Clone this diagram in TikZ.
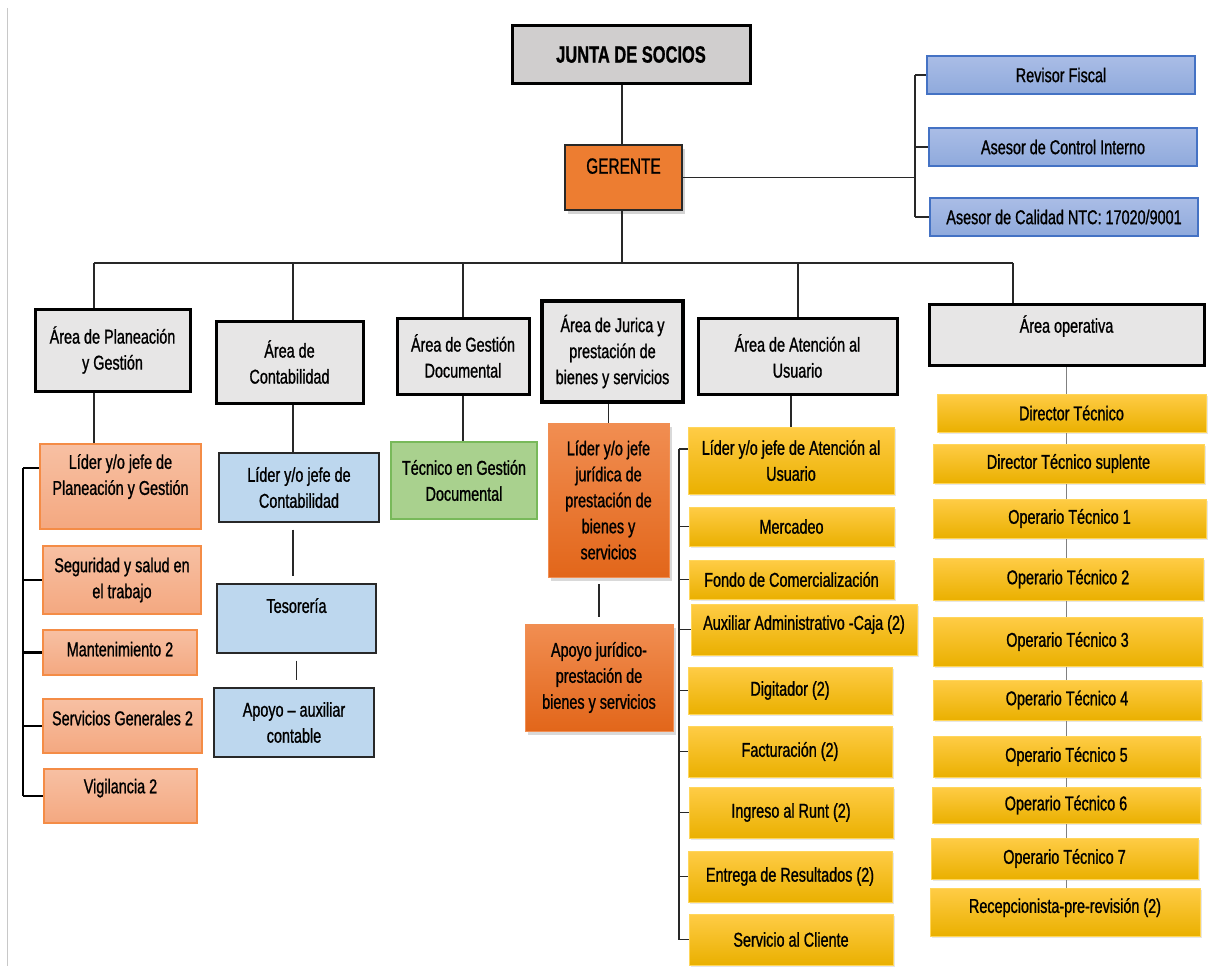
\documentclass[tikz,border=0pt]{standalone}
\usepackage{fontspec}
\setmainfont{Liberation Sans}[FakeStretch=0.72, FakeBold=1]
\newfontfamily\tallfont{Liberation Sans}[FakeStretch=0.7, FakeBold=1]
\usetikzlibrary{shadows,backgrounds}

\definecolor{rulegray}{RGB}{200,200,200}
\definecolor{linegray}{RGB}{40,40,40}
\definecolor{juntagray}{RGB}{208,206,206}
\definecolor{areagray}{RGB}{231,230,230}
\definecolor{gerorange}{RGB}{237,125,49}
\definecolor{advtop}{RGB}{170,189,230}
\definecolor{advbot}{RGB}{143,170,220}
\definecolor{advline}{RGB}{68,114,196}
\definecolor{salmontop}{RGB}{247,192,163}
\definecolor{salmonbot}{RGB}{244,168,128}
\definecolor{salmonline}{RGB}{244,140,70}
\definecolor{paleblue}{RGB}{189,215,238}
\definecolor{docgreen}{RGB}{169,209,142}
\definecolor{docline}{RGB}{120,185,90}
\definecolor{jurtop}{RGB}{241,142,82}
\definecolor{jurbot}{RGB}{226,102,26}
\definecolor{yeltop}{RGB}{255,204,70}
\definecolor{yelbot}{RGB}{234,176,0}
\definecolor{yelline}{RGB}{255,214,90}

\tikzset{
  box/.style={rectangle, align=center, inner sep=2pt, text=black,
    font=\fontsize{20}{26}\selectfont},
  juntabox/.style={box, draw=black, fill=juntagray, line width=3pt,
    font=\tallfont\bfseries\fontsize{23.5}{26}\selectfont},
  gerbox/.style={box, draw=linegray, fill=gerorange, line width=1.2pt,
    font=\tallfont\fontsize{22}{26}\selectfont,
    drop shadow={shadow xshift=3pt, shadow yshift=-4pt, opacity=0.35}},
  advbox/.style={box, draw=advline, top color=advtop, bottom color=advbot, line width=1.4pt},
  area/.style={box, draw=black, fill=areagray, line width=3pt},
  salmon/.style={box, draw=salmonline, top color=salmontop, bottom color=salmonbot, line width=1.2pt},
  contbox/.style={box, draw=linegray, fill=paleblue, line width=1.2pt},
  docbox/.style={box, draw=docline, fill=docgreen, line width=1.2pt},
  jurbox/.style={box, draw=jurtop, top color=jurtop, bottom color=jurbot, line width=0.8pt,
    drop shadow={shadow xshift=3pt, shadow yshift=-4pt, opacity=0.3}},
  yel/.style={box, draw=yelline, top color=yeltop, bottom color=yelbot, line width=0.8pt,
    drop shadow={shadow xshift=1.5pt, shadow yshift=-2pt, opacity=0.2}},
  link/.style={draw=linegray, line width=1.2pt},
  gap/.style={link, shorten <=7pt, shorten >=7pt},
  bracket/.style={draw=black, line width=2.5pt},
}

\begin{document}
\begin{tikzpicture}[x=1pt,y=1pt,yscale=-1]
\useasboundingbox (0,0) rectangle (1225,966);
%Straight Lines: page rule
\draw[rulegray, line width=1pt] (7,8) -- (7,966);

%Shape: top of the chart
\node[juntabox, minimum width=238, minimum height=57] (junta) at (631,54.5) {JUNTA DE SOCIOS};
\node[gerbox, minimum width=117, minimum height=65, text depth=23pt] (ger) at (623.5,177.5) {GERENTE};

%Shape: advisors
\node[advbox, minimum width=268, minimum height=38] (rev) at (1061,75) {Revisor Fiscal};
\node[advbox, minimum width=268, minimum height=38] (aci) at (1063,147) {Asesor de Control Interno};
\node[advbox, minimum width=268, minimum height=38] (acal) at (1064,217) {Asesor de Calidad NTC: 17020/9001};

%Shape: areas
\node[area, minimum width=155, minimum height=82] (aplan) at (112.5,350) {Área de Planeación\\y Gestión};
\node[area, minimum width=147, minimum height=82] (acont) at (289.5,362) {Área de\\Contabilidad};
\node[area, minimum width=132, minimum height=76] (agd) at (463,356) {Área de Gestión\\Documental};
\node[area, line width=4.5pt, minimum width=141, minimum height=101] (ajur) at (612.5,351.5) {Área de Jurica y\\prestación de\\bienes y servicios};
\node[area, minimum width=199, minimum height=76] (aate) at (797.5,356) {Área de Atención al\\Usuario};
\node[area, minimum width=275, minimum height=61, text depth=21pt] (aop) at (1066.5,334.5) {Área operativa};

%Shape: planeacion
\node[salmon, minimum width=161, minimum height=85, text depth=24pt] (lplan) at (120.5,486.5) {Líder y/o jefe de\\Planeación y Gestión};
\node[salmon, minimum width=158, minimum height=68] (seg) at (122,580) {Seguridad y salud en\\el trabajo};
\node[salmon, minimum width=154, minimum height=45, text depth=7pt] (mant) at (120,652.5) {Mantenimiento 2};
\node[salmon, minimum width=159, minimum height=54, text depth=16pt] (servg) at (122.5,726) {Servicios Generales 2};
\node[salmon, minimum width=153, minimum height=54, text depth=20pt] (vig) at (120.5,796) {Vigilancia 2};

%Shape: contabilidad
\node[contbox, minimum width=160, minimum height=69] (lcont) at (299,487.5) {Líder y/o jefe de\\Contabilidad};
\node[contbox, minimum width=159, minimum height=69, text depth=26pt] (teso) at (296.5,618.5) {Tesorería};
\node[contbox, minimum width=160, minimum height=69] (apaux) at (294,722.5) {Apoyo -- auxiliar\\contable};

%Shape: gestion documental
\node[docbox, minimum width=146, minimum height=77] (tgd) at (464,480.5) {Técnico en Gestión\\Documental};

%Shape: juridica
\node[jurbox, minimum width=121, minimum height=154] (ljur) at (608.5,500) {Líder y/o jefe\\jurídica de\\prestación de\\bienes y\\servicios};
\node[jurbox, minimum width=148, minimum height=107] (apjur) at (599,677.5) {Apoyo jurídico-\\prestación de\\bienes y servicios};

%Shape: atencion al usuario
\node[yel, minimum width=206, minimum height=67] (latu) at (791,460.5) {Líder y/o jefe de Atención al\\Usuario};
\node[yel, minimum width=205, minimum height=39] (merc) at (791.5,526.5) {Mercadeo};
\node[yel, minimum width=205, minimum height=39] (fondo) at (791.5,579.5) {Fondo de Comercialización};
\node[yel, minimum width=226, minimum height=51, text depth=14pt] (aux) at (804,629.5) {Auxiliar Administrativo -Caja (2)};
\node[yel, minimum width=204, minimum height=47] (dig) at (790,690.5) {Digitador (2)};
\node[yel, minimum width=204, minimum height=51] (fact) at (790,751.5) {Facturación (2)};
\node[yel, minimum width=204, minimum height=51] (runt) at (791,812.5) {Ingreso al Runt (2)};
\node[yel, minimum width=204, minimum height=51] (entr) at (790,876.5) {Entrega de Resultados (2)};
\node[yel, minimum width=204, minimum height=51] (scli) at (791,939.5) {Servicio al Cliente};

%Shape: operativa
\node[yel, minimum width=269, minimum height=38] (dt) at (1071.5,413) {Director Técnico};
\node[yel, minimum width=271, minimum height=39] (dts) at (1068.5,463.5) {Director Técnico suplente};
\node[yel, minimum width=273, minimum height=39] (op1) at (1069.5,518.5) {Operario Técnico 1};
\node[yel, minimum width=270, minimum height=42] (op2) at (1068,579) {Operario Técnico 2};
\node[yel, minimum width=269, minimum height=49] (op3) at (1067.5,641.5) {Operario Técnico 3};
\node[yel, minimum width=268, minimum height=40] (op4) at (1067,700) {Operario Técnico 4};
\node[yel, minimum width=267, minimum height=41] (op5) at (1066.5,756.5) {Operario Técnico 5};
\node[yel, minimum width=268, minimum height=36] (op6) at (1066,805) {Operario Técnico 6};
\node[yel, minimum width=267, minimum height=41] (op7) at (1064.5,858.5) {Operario Técnico 7};
\node[yel, minimum width=270, minimum height=48, text depth=13pt] (recep) at (1065,912) {Recepcionista-pre-revisión (2)};

%Straight Lines: junta - gerente
\coordinate (g) at (622,263);
\draw[link] (junta.south -| g) -- (ger.north -| g);
\draw[link] (ger.south -| g) -- (g);

%Straight Lines: advisors
\coordinate (rk) at (915,177.5);
\draw[link] (ger.east) -- (rk);
\draw[link, line width=1.5pt] (rk |- rev.west) -- (rk |- acal.west);
\draw[link, line width=1.5pt] (rk |- rev.west) -- (rev.west);
\draw[link, line width=1.5pt] (rk |- aci.west) -- (aci.west);
\draw[link, line width=1.5pt] (rk |- acal.west) -- (acal.west);

%Straight Lines: bus to the areas
\coordinate (b1) at (94,263);
\coordinate (b2) at (293,263);
\coordinate (b3) at (463,263);
\coordinate (b4) at (798,263);
\coordinate (b5) at (1013,263);
\draw[link] (b1) -- (b5);
\draw[link] (b1) -- (b1 |- aplan.north);
\draw[link] (b2) -- (b2 |- acont.north);
\draw[link] (b3) -- (b3 |- agd.north);
\draw[link] (b4) -- (b4 |- aate.north);
\draw[link] (b5) -- (b5 |- aop.north);

%Straight Lines: inside the areas
\draw[link] (b1 |- aplan.south) -- (b1 |- lplan.north);
\draw[link] (b2 |- acont.south) -- (b2 |- lcont.north);
\draw[gap] (b2 |- lcont.south) -- (b2 |- teso.north);
\draw[gap] (teso.south) -- (teso.south |- apaux.north);
\draw[link] (agd.south) -- (agd.south |- tgd.north);
\draw[link] (ljur.north |- ajur.south) -- (ljur.north);
\draw[gap] (apjur.north |- ljur.south) -- (apjur.north);
\draw[link] (latu.north |- aate.south) -- (latu.north);

%Straight Lines: planeacion bracket
\coordinate (pk) at (23,468);
\draw[bracket] (pk) -- (pk |- vig.west);
\draw[bracket] (pk) -- (pk -| lplan.west);
\draw[bracket] (pk |- seg.west) -- (seg.west);
\draw[bracket] (pk |- mant.west) -- (mant.west);
\draw[bracket] (pk |- servg.west) -- (servg.west);
\draw[bracket] (pk |- vig.west) -- (vig.west);

%Straight Lines: atencion bracket
\coordinate (ak) at (679,449);
\draw[link] (ak) -- (ak |- scli.west);
\draw[link] (ak) -- (ak -| latu.west);
\draw[link] (ak |- merc.west) -- (merc.west);
\draw[link] (ak |- fondo.west) -- (fondo.west);
\draw[link] (ak |- aux.west) -- (aux.west);
\draw[link] (ak |- dig.west) -- (dig.west);
\draw[link] (ak |- fact.west) -- (fact.west);
\draw[link] (ak |- runt.west) -- (runt.west);
\draw[link] (ak |- entr.west) -- (entr.west);
\draw[link] (ak |- scli.west) -- (scli.west);

%Straight Lines: operativa spine behind the boxes
\begin{scope}[on background layer]
\draw[link, draw=gray] (aop.south) -- (aop.south |- recep.south);
\end{scope}
\end{tikzpicture}
\end{document}
